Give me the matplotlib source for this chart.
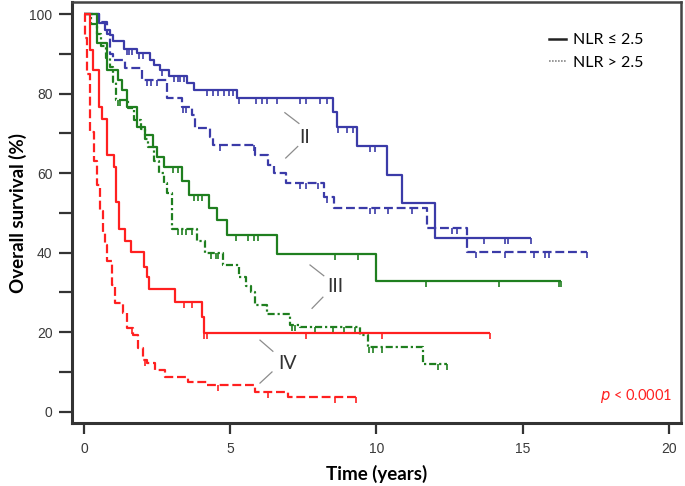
"""
Kaplan-Meier overall survival by stage (II, III, IV) and NLR group.
"""

import numpy as np
import matplotlib.pyplot as plt
from matplotlib.lines import Line2D

# ---- data ----
# each curve: step start times, survival level (%) from that time, censor times, last follow-up
ii_lo_t = [0, 0.51, 0.72, 0.89, 0.99, 1.37, 1.81, 2.26, 2.39, 2.60, 2.91, 3.52, 3.76, 5.23,
           8.51, 8.65, 9.33, 10.36, 10.87, 12.0]
ii_lo_s = [100, 97.8, 96, 94.7, 93.3, 91.2, 90.2, 88.4, 87.2, 86, 84.4, 82.6, 80.8, 79,
           75.4, 71.7, 66.8, 59.5, 52.4, 43.7]
ii_lo_cens = [1.47, 1.55, 1.64, 1.88, 2.02, 2.67, 3.08, 3.2, 3.3, 3.42, 4.2, 4.4, 4.6, 4.8,
              4.95, 5.1, 5.3, 5.9, 6.1, 6.26, 6.6, 7.38, 7.6, 8.07, 8.3, 8.7, 9.0, 9.2,
              9.78, 9.95, 13.68, 14.4, 14.5, 15.3]
ii_lo_end = 15.3

ii_hi_t = [0, 0.5, 0.79, 0.89, 1.0, 1.4, 2.0, 2.84, 3.35, 3.7, 3.8, 4.3, 4.4, 5.85, 6.3,
           6.5, 6.9, 8.2, 8.55, 11.73, 13.1]
ii_hi_s = [100, 98, 95, 90, 88.4, 86.5, 83.4, 78.8, 76.6, 74.6, 71.3, 69, 67, 64.5, 62,
           60, 57.4, 54, 51.2, 46.1, 40.2]
ii_hi_cens = [2.15, 2.3, 2.5, 3.4, 3.5, 4.65, 5.8, 7.4, 7.6, 8.0, 8.3, 9.78, 9.95, 10.4,
              11.2, 12.6, 12.75, 13.4, 14.4, 15.4, 15.75, 15.9, 17.2]
ii_hi_end = 17.2

iii_lo_t = [0, 0.44, 0.78, 1.16, 1.3, 1.47, 1.81, 2.09, 2.35, 2.5, 2.75, 3.35, 3.6, 4.27,
            4.55, 4.9, 6.6, 10.0]
iii_lo_s = [100, 92.6, 86, 83.4, 80.9, 76.6, 71.6, 69.6, 66.6, 64, 61.5, 58, 54.4, 51.2,
            48.2, 44.4, 39.6, 32.8]
iii_lo_cens = [3.05, 3.2, 3.75, 3.9, 4.05, 5.2, 5.6, 5.8, 5.95, 8.6, 9.37, 11.7, 14.2,
               16.25, 16.3]
iii_lo_end = 16.3

iii_hi_t = [0, 0.25, 0.45, 0.6, 0.75, 0.88, 1.0, 1.1, 1.5, 1.7, 1.95, 2.1, 2.2, 2.4, 2.55,
            2.75, 2.85, 3.0, 3.85, 4.15, 4.75, 5.3, 5.55, 5.7, 5.85, 6.25, 7.04, 7.38,
            9.44, 9.71, 11.59]
iii_hi_s = [100, 97.5, 95, 92, 89, 86.7, 83, 78.4, 76.5, 73.3, 71, 68.5, 66.6, 63, 60,
            57.5, 54.9, 46, 43, 39.9, 36.9, 33.8, 31.5, 30, 26.8, 24.6, 21.8, 21.3,
            19.2, 16.2, 12]
iii_hi_cens = [1.15, 1.25, 3.2, 3.35, 3.5, 3.7, 4.35, 4.5, 4.6, 7.1, 7.2, 7.9, 8.5, 8.9,
               9.26, 9.75, 9.9, 10.2, 12.1, 12.4]
iii_hi_end = 12.4

iv_lo_t = [0, 0.21, 0.31, 0.51, 0.62, 0.79, 1.03, 1.1, 1.2, 1.4, 1.61, 2.05, 2.15, 2.24,
           3.11, 4.03, 4.1]
iv_lo_s = [100, 91, 86, 76.6, 73.7, 64.5, 61.5, 52.7, 46, 43, 40.2, 36.4, 33.8, 30.8,
           27.6, 23.8, 19.8]
iv_lo_cens = [3.42, 3.69, 4.12, 4.22, 7.6, 10.2, 13.9]
iv_lo_end = 13.9

iv_hi_t = [0, 0.05, 0.12, 0.2, 0.33, 0.45, 0.56, 0.66, 0.73, 0.8, 0.96, 1.06, 1.33, 1.47,
           1.68, 1.85, 2.02, 2.15, 2.43, 2.77, 3.56, 4.2, 5.85, 6.97]
iv_hi_s = [100, 94, 85, 70.3, 63, 57, 50.5, 45, 41.9, 38, 31.8, 27.3, 24.8, 21, 19.3, 16,
           13, 12.2, 10.5, 8.7, 7.5, 6.7, 5, 3.7]
iv_hi_cens = [1.64, 2.08, 4.58, 6.29, 8.58, 9.3]
iv_hi_end = 9.3

stage_labels = ['II', 'III', 'IV']
legend_labels = ['NLR \u2264 2.5', 'NLR > 2.5']
p_text = '< 0.0001'

# ---- style ----
col_ii = '#3b3ba8'
col_iii = '#1f7f1f'
col_iv = '#ff2020'
lw = 1.6
dash = (0, (4, 1.7))
dashdot = (0, (3.2, 1.3, 1, 1.3))
ui_font = 'Lato'
tick_font = 'Liberation Sans'
dark = '#333333'

curves = [
    (ii_lo_t, ii_lo_s, ii_lo_cens, ii_lo_end, col_ii, '-'),
    (ii_hi_t, ii_hi_s, ii_hi_cens, ii_hi_end, col_ii, dash),
    (iii_lo_t, iii_lo_s, iii_lo_cens, iii_lo_end, col_iii, '-'),
    (iii_hi_t, iii_hi_s, iii_hi_cens, iii_hi_end, col_iii, dashdot),
    (iv_lo_t, iv_lo_s, iv_lo_cens, iv_lo_end, col_iv, '-'),
    (iv_hi_t, iv_hi_s, iv_hi_cens, iv_hi_end, col_iv, dash),
]


def step_level(times, surv, t):
    """Survival level of a step curve at time t."""
    idx = np.searchsorted(times, t, side='right') - 1
    return np.asarray(surv)[idx]


fig = plt.figure(figsize=(6.85, 4.86), dpi=100)
ax = fig.add_axes([0.105, 0.1296, 0.889, 0.866])

for times, surv, cens, end, col, ls in curves:
    x = list(times) + [end]
    y = list(surv) + [surv[-1]]
    ax.plot(x, y, drawstyle='steps-post', color=col, lw=lw, linestyle=ls,
            solid_capstyle='butt')
    ax.plot(cens, step_level(times, surv, cens), linestyle='none', marker=3,
            markersize=4.5, markeredgewidth=1.2, color=col)

# stage labels with connector lines
label_specs = [
    ('II', 7.56, 69.0, [(6.87, 75.2), (7.35, 72.5)], [(7.31, 66.7), (6.9, 63.8)]),
    ('III', 8.6, 31.5, [(7.73, 36.9), (8.2, 34.2)], [(8.17, 28.8), (7.8, 26.0)]),
    ('IV', 6.97, 12.2, [(6.02, 18.0), (6.46, 15.2)], [(6.43, 10.0), (6.02, 7.2)]),
]
for text, tx, ty, seg1, seg2 in label_specs:
    ax.text(tx, ty, text, fontsize=14, family=ui_font, color=dark,
            ha='center', va='center')
    for seg in (seg1, seg2):
        ax.plot([seg[0][0], seg[1][0]], [seg[0][1], seg[1][1]], color='#8c8c8c', lw=0.9)

# p-value
ax.text(0.985, 0.065, r'$\it{p}$ ' + p_text, transform=ax.transAxes, ha='right', va='center',
        color='#ff2020', fontsize=10.5, family=ui_font)

# legend
handles = [Line2D([], [], color='#222222', lw=1.8),
           Line2D([], [], color='#888888', lw=1.2, linestyle=(0, (1, 0.8)))]
leg = ax.legend(handles, legend_labels, loc='upper left', bbox_to_anchor=(0.77, 0.945),
                frameon=False, handlelength=1.1, handletextpad=0.4, labelspacing=0.5,
                borderpad=0, prop={'family': ui_font, 'size': 11.5})

# axes
ax.set_xlim(-0.41, 20.41)
ax.set_ylim(-2.84, 103.0)
ax.set_xticks([0, 5, 10, 15, 20])
ax.set_yticks([0, 20, 40, 60, 80, 100])
ax.set_yticks([10, 30, 50, 70, 90], minor=True)
ax.tick_params(axis='both', which='both', direction='out', width=1.6, color=dark,
               labelsize=10, labelcolor='#3a3a3a')
ax.tick_params(axis='y', which='both', length=9.5, pad=4.5)
ax.tick_params(axis='x', which='both', length=8, pad=6)
for lab in ax.get_xticklabels() + ax.get_yticklabels():
    lab.set_family(tick_font)
for side in ['left', 'bottom']:
    ax.spines[side].set_linewidth(2.2)
    ax.spines[side].set_color(dark)
for side in ['top', 'right']:
    ax.spines[side].set_linewidth(1.8)
    ax.spines[side].set_color('#444444')

ax.set_xlabel('Time (years)', fontsize=13.5, fontweight='bold', family=ui_font, labelpad=6)
ax.set_ylabel('Overall survival (%)', fontsize=13.5, fontweight='bold', family=ui_font,
              labelpad=2)

plt.savefig('out.png', dpi=100)
